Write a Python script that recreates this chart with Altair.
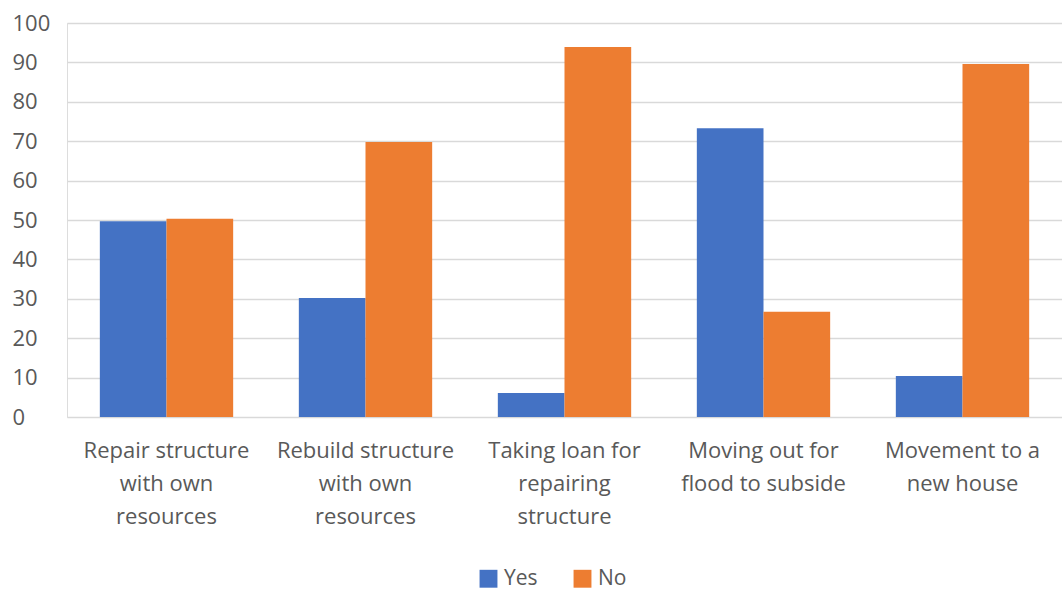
import altair as alt
import pandas as pd

categories = [
    "Repair structure|with own|resources",
    "Rebuild structure|with own|resources",
    "Taking loan for|repairing|structure",
    "Moving out for|flood to subside",
    "Movement to a|new house",
]
yes_values = [49.7, 30.2, 6.1, 73.3, 10.4]
no_values = [50.3, 69.8, 93.9, 26.7, 89.6]
series = ["Yes", "No"]
colors = ["#4472C4", "#ED7D31"]

rows = []
for c, y, n in zip(categories, yes_values, no_values):
    rows.append({"category": c, "series": "Yes", "value": y})
    rows.append({"category": c, "series": "No", "value": n})
df = pd.DataFrame(rows)

FONT = "Open Sans"
GRAY = "#595959"
FS = 22

chart = alt.Chart(df).mark_bar().encode(
    x=alt.X(
        "category:N",
        sort=categories,
        scale=alt.Scale(paddingInner=0.33, paddingOuter=0.165),
        axis=alt.Axis(
            title=None,
            labelAngle=0,
            labelExpr="split(datum.label, '|')",
            labelFont=FONT,
            labelFontSize=FS,
            labelColor=GRAY,
            labelLineHeight=33,
            labelPadding=23,
            labelBaseline="top",
            labelLimit=300,
            labelOverlap=False,
            ticks=False,
            domain=False,
            grid=False,
        ),
    ),
    xOffset=alt.XOffset("series:N", sort=series,
                        scale=alt.Scale(paddingInner=0, paddingOuter=0)),
    y=alt.Y(
        "value:Q",
        scale=alt.Scale(domain=[0, 100], nice=False),
        axis=alt.Axis(
            title=None,
            values=list(range(0, 101, 10)),
            labelFont=FONT,
            labelFontSize=FS,
            labelColor=GRAY,
            labelAlign="left",
            labelPadding=55,
            ticks=False,
            domain=False,
            gridColor="#d9d9d9",
            gridWidth=1.5,
        ),
    ),
    color=alt.Color(
        "series:N",
        sort=series,
        scale=alt.Scale(domain=series, range=colors),
        legend=alt.Legend(
            title=None,
            orient="none",
            direction="horizontal",
            legendX=411,
            legendY=545,
            symbolType="square",
            symbolSize=320,
            symbolStrokeWidth=0,
            labelFont=FONT,
            labelFontSize=21,
            labelColor=GRAY,
            labelOffset=5,
            columnPadding=34,
        ),
    ),
).properties(
    width=995,
    height=394,
    autosize=alt.AutoSizeParams(type="none"),
    padding={"left": 67, "top": 23, "right": 0, "bottom": 174},
).configure_view(stroke=None).configure(background="white")

chart.save("out.html", embed_options={"renderer": "svg", "actions": False})
